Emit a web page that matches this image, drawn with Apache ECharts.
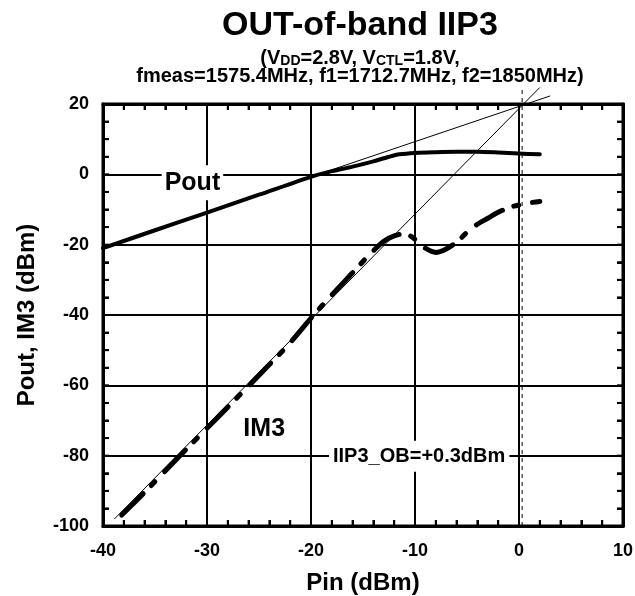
<!DOCTYPE html>
<html>
<head>
<meta charset="utf-8">
<script src="https://cdn.jsdelivr.net/npm/echarts@6/dist/echarts.min.js"></script>
<style>
  html, body { margin: 0; padding: 0; background: #fff; }
  #chart { width: 635px; height: 596px; }
</style>
</head>
<body>
<div id="chart"></div>
<script>
// ---- data ----
const titleText = 'OUT-of-band IIP3';
const subLine1 = '(V{s|DD}=2.8V, V{s|CTL}=1.8V,';
const subLine2 = 'fmeas=1575.4MHz, f1=1712.7MHz, f2=1850MHz)';
const xAxisName = 'Pin (dBm)';
const yAxisName = 'Pout, IM3 (dBm)';

const xTicks = [-40, -30, -20, -10, 0, 10];
const yTicks = [-100, -80, -60, -40, -20, 0, 20];
const xMinorStep = 2;
const yMinorStep = 5;

const pinPout = [-40, -35, -30, -25, -20, -18, -16, -14, -12.5, -11.5, -10, -8, -6, -4, -2, 0, 2];
const poutDbm = [-21, -15.9, -10.9, -5.8, -0.7, 0.9, 2.2, 3.7, 5.0, 5.7, 6.1, 6.3, 6.4, 6.4, 6.2, 5.9, 5.7];

const pinIm3 = [-38.2, -36, -34, -32, -30, -28, -26, -24, -22, -20, -18, -16, -14.5, -13, -12, -11.2, -10.5, -9.8, -9, -8, -7, -6, -5, -4, -3, -2, -1, 0, 1, 2];
const im3Dbm = [-96.9, -90.4, -84.3, -78.2, -72.2, -66.2, -60.2, -54.1, -47.9, -40.9, -34.3, -28.0, -23.2, -19.0, -17.5, -17.0, -17.4, -19.0, -21.0, -22.2, -21.2, -19.3, -16.5, -14.2, -12.5, -10.8, -9.5, -8.7, -8.1, -7.7];

const fundFitPin = [-40, 3];
const fundFitDbm = [-20.7, 22.3];
const im3FitPin = [-38.9, 2.0];
const im3FitDbm = [-98.0, 24.7];
const iip3Pin = [0.3, 0.3];
const iip3MarkDbm = [-100, 24];

const noteTexts = ['Pout', 'IM3', 'IIP3_OB=+0.3dBm'];
const notePin = [-31.4, -24.5, -9.6];
const noteDbm = [-2.4, -72.5, -80.2];

// ---- chart ----
const FONT = '"Liberation Sans", Arial, Helvetica, sans-serif';
const pairs = (xs, ys) => xs.map((x, i) => [x, ys[i]]);
const xMin = xTicks[0], xMax = xTicks[xTicks.length - 1];
const yMin = yTicks[0], yMax = yTicks[yTicks.length - 1];

const xMinorVals = [];
for (let v = xMin; v <= xMax + 1e-9; v += xMinorStep) xMinorVals.push(v);
const yMinorVals = [];
for (let v = yMin; v <= yMax + 1e-9; v += yMinorStep) yMinorVals.push(v);

const chart = echarts.init(document.getElementById('chart'), null, { renderer: 'canvas' });

function makeAxis(pos, isX, main) {
  const ticks = isX ? xTicks : yTicks;
  const shift = main ? 0 : (isX ? 50 : 120);
  const ax = {
    type: 'value',
    position: pos,
    min: ticks[0] + shift,
    max: ticks[ticks.length - 1] + shift,
    interval: isX ? 10 : 20,
    axisLine: { show: true, onZeroAxisIndex: 1, lineStyle: { color: '#000', width: 3 } },
    axisTick: { show: true, inside: true, length: 6, lineStyle: { color: '#000', width: 2 } },
    minorTick: { show: true, splitNumber: isX ? 5 : 4, length: 6, lineStyle: { color: '#000', width: 2 } },
    splitLine: { show: main, lineStyle: { color: '#000', width: 2 } },
    axisLabel: main
      ? { show: true, margin: isX ? 16 : 14, color: '#000', fontSize: 18, fontWeight: 'bold', fontFamily: FONT }
      : { show: false }
  };
  if (main) {
    ax.name = isX ? xAxisName : yAxisName;
    ax.nameLocation = 'middle';
    ax.nameGap = isX ? 45 : 64;
    if (!isX) ax.nameRotate = 90;
    ax.nameTextStyle = { color: '#000', fontSize: 24, fontWeight: 'bold', fontFamily: FONT };
  }
  return ax;
}

// frame + inward ticks drawn through the cartesian scales (api.coord)
function tickRenderer(isX) {
  return function (params, api) {
    const v = api.value(isX ? 0 : 1);
    const a = isX ? api.coord([v, yMin]) : api.coord([xMin, v]);
    const b = isX ? api.coord([v, yMax]) : api.coord([xMax, v]);
    const L = 6;
    const st = { stroke: '#000', lineWidth: 2 };
    return {
      type: 'group',
      children: isX ? [
        { type: 'line', shape: { x1: a[0], y1: a[1], x2: a[0], y2: a[1] - L }, style: st },
        { type: 'line', shape: { x1: b[0], y1: b[1], x2: b[0], y2: b[1] + L }, style: st }
      ] : [
        { type: 'line', shape: { x1: a[0], y1: a[1], x2: a[0] + L, y2: a[1] }, style: st },
        { type: 'line', shape: { x1: b[0], y1: b[1], x2: b[0] - L, y2: b[1] }, style: st }
      ]
    };
  };
}
function frameRenderer(params, api) {
  const p0 = api.coord([xMin, yMax]);
  const p1 = api.coord([xMax, yMin]);
  return {
    type: 'rect',
    shape: { x: p0[0], y: p0[1], width: p1[0] - p0[0], height: p1[1] - p0[1] },
    style: { fill: 'none', stroke: '#000', lineWidth: 3 }
  };
}

const option = {
  animation: false,
  backgroundColor: '#fff',
  textStyle: { fontFamily: FONT },
  grid: {
    left: 103, right: 12, top: 104, bottom: 70,
    containLabel: false, outerBoundsMode: 'none'
  },
  graphic: [
    { type: 'text', x: 360, y: 26, style: { text: titleText, fill: '#000', fontSize: 34, fontWeight: 'bold', fontFamily: FONT, align: 'center', verticalAlign: 'middle' } },
    { type: 'text', x: 360, y: 58, style: { text: subLine1, fill: '#000', fontSize: 20, fontWeight: 'bold', fontFamily: FONT, align: 'center', verticalAlign: 'middle',
        rich: { s: { fontSize: 14, fontWeight: 'bold', fontFamily: FONT, verticalAlign: 'bottom', fill: '#000' } } } },
    { type: 'text', x: 360, y: 76, style: { text: subLine2, fill: '#000', fontSize: 20, fontWeight: 'bold', fontFamily: FONT, align: 'center', verticalAlign: 'middle' } }
  ],
  xAxis: [makeAxis('bottom', true, true), makeAxis('top', true, false)],
  yAxis: [makeAxis('left', false, true), makeAxis('right', false, false)],
  series: [
    {
      name: 'x ticks', type: 'custom', silent: true, z: 6,
      data: xMinorVals.map(v => [v, yMin]), renderItem: tickRenderer(true)
    },
    {
      name: 'y ticks', type: 'custom', silent: true, z: 6,
      data: yMinorVals.map(v => [xMin, v]), renderItem: tickRenderer(false)
    },
    {
      name: 'frame', type: 'custom', silent: true, z: 7,
      data: [[xMin, yMin]], renderItem: frameRenderer
    },
    {
      name: 'Fund fit', type: 'line', data: pairs(fundFitPin, fundFitDbm), clip: false,
      symbol: 'none', lineStyle: { color: '#000', width: 1 }, z: 3, silent: true
    },
    {
      name: 'IM3 fit', type: 'line', data: pairs(im3FitPin, im3FitDbm), clip: false,
      symbol: 'none', lineStyle: { color: '#000', width: 1 }, z: 3, silent: true
    },
    {
      name: 'IIP3', type: 'line', data: pairs(iip3Pin, iip3MarkDbm), clip: false,
      symbol: 'none', lineStyle: { color: '#000', width: 1, type: [4, 4] }, z: 3, silent: true
    },
    {
      name: 'Pout', type: 'line', data: pairs(pinPout, poutDbm), smooth: 0.3,
      symbol: 'none', lineStyle: { color: '#000', width: 4, cap: 'round', join: 'round' }, z: 4
    },
    {
      name: 'IM3', type: 'line', data: pairs(pinIm3, im3Dbm), smooth: 0.3,
      symbol: 'none', lineStyle: { color: '#000', width: 5, type: [30, 12, 5, 14], cap: 'round', join: 'round' }, z: 4
    }
  ]
};

chart.setOption(option);

// annotations positioned from data coordinates via the chart's own scales
const noteStyle = [
  { fontSize: 25, bg: '#fff', pad: [5, 3, 5, 3] },
  { fontSize: 25, bg: null, pad: [0, 0, 0, 0] },
  { fontSize: 20, bg: '#fff', pad: [5, 4, 6, 4] }
];
const noteGraphics = noteTexts.map((t, i) => {
  const p = chart.convertToPixel({ xAxisIndex: 0, yAxisIndex: 0 }, [notePin[i], noteDbm[i]]);
  const st = noteStyle[i];
  return {
    type: 'text', x: p[0], y: p[1], z: 10,
    style: {
      text: t, fill: '#000', fontSize: st.fontSize, fontWeight: 'bold', fontFamily: FONT,
      align: 'center', verticalAlign: 'middle',
      backgroundColor: st.bg || undefined, padding: st.pad
    }
  };
});
chart.setOption({ graphic: option.graphic.concat(noteGraphics) });
</script>
</body>
</html>
